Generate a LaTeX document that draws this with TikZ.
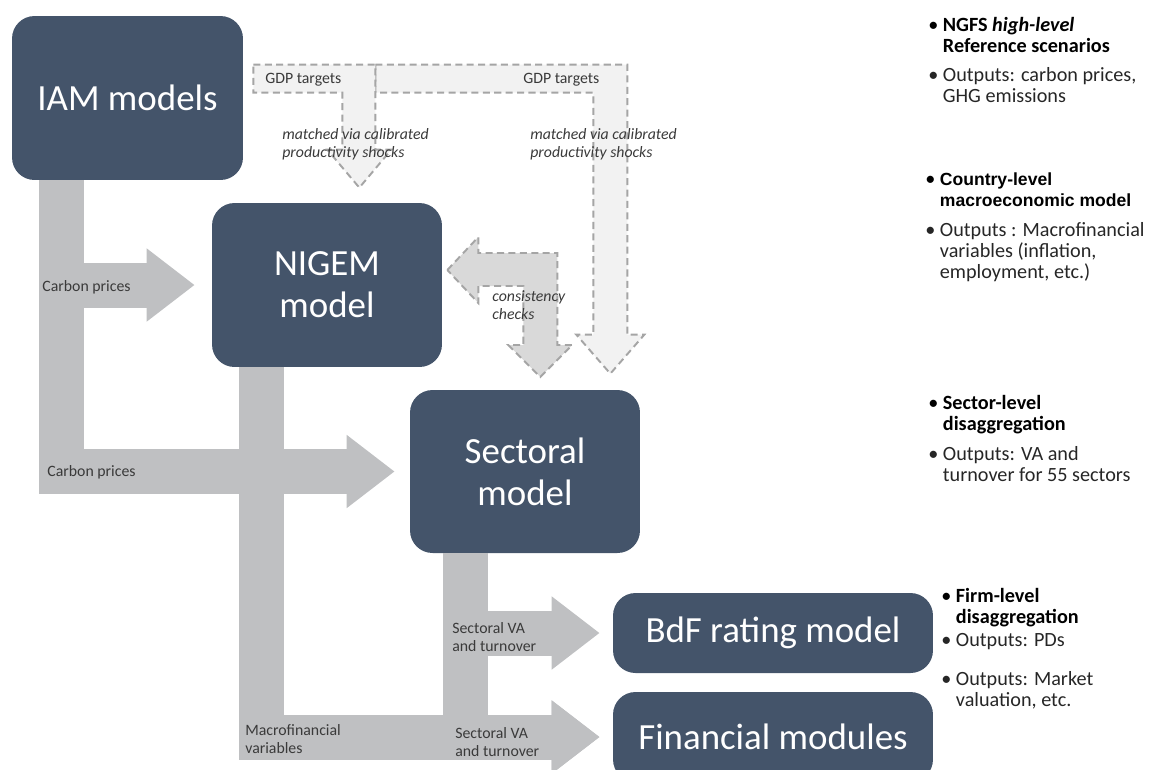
\documentclass[tikz,border=0pt]{standalone}
\usepackage{fontspec}
\setmainfont{Carlito}
\newfontfamily\arialfont{Liberation Sans}
\usetikzlibrary{arrows.meta,calc}

\definecolor{boxblue}{HTML}{44546A}
\definecolor{bandgray}{HTML}{BFC0C2}
\definecolor{dashgray}{HTML}{A5A5A5}
\definecolor{lightfill}{HTML}{F2F2F2}
\definecolor{midfill}{HTML}{D9D9D9}
\definecolor{labelgray}{HTML}{3A3A3A}
\definecolor{notegray}{HTML}{262626}

\newcommand{\bul}{\makebox[0.72em][l]{\textbullet}}
\newcommand{\bulpad}{\hspace*{0.72em}}

\tikzset{
  model/.style={fill=boxblue, text=white, rounded corners=0.45cm, align=center,
    inner sep=0pt, font=\fontsize{21}{24}\selectfont},
  band/.style={draw=bandgray, line width=0.9cm, -{Triangle[length=0.96cm,width=1.4cm]}},
  flowlabel/.style={anchor=west, align=left, inner sep=0pt, text=labelgray,
    font=\fontsize{9}{10.5}\selectfont},
  hint/.style={flowlabel, font=\fontsize{9}{10.5}\selectfont\itshape},
  dashedarrow/.style={draw=dashgray, line width=1.1pt, dash pattern=on 4pt off 2.5pt},
  note/.style={anchor=north west, align=left, inner sep=0pt, text=notegray,
    font=\fontsize{11.5}{12}\selectfont},
}

\begin{document}
\begin{tikzpicture}[x=0.02cm, y=-0.02cm]
\useasboundingbox (0,0) rectangle (1149,769);

% models
\node[model, minimum width=4.62cm, minimum height=3.28cm] (iam) at (127.5,98) {IAM models};
\node[model, minimum width=4.6cm, minimum height=3.28cm] (nigem) at (327,285) {NIGEM\\model};
\node[model, minimum width=4.6cm, minimum height=3.26cm] (sect) at (525,471.5) {Sectoral\\model};
\node[model, minimum width=6.4cm, minimum height=1.6cm] (bdf) at (773,633) {BdF rating model};
\node[model, minimum width=6.4cm, minimum height=1.8cm] (fin) at (773,737) {Financial modules};

% grey flows
\draw[band] ([xshift=-1.32cm]iam.south) |- ([xshift=-0.34cm]nigem.west);
\draw[band] ([xshift=-1.32cm]iam.south) |- ([xshift=-0.3cm]sect.west);
\draw[band] ([xshift=-1.32cm]nigem.south) |- ([xshift=-0.26cm]fin.west);
\draw[band] ([xshift=-1.19cm]sect.south) |- ([xshift=-0.26cm]bdf.west);
\draw[band] ([xshift=-1.19cm]sect.south) |- ([xshift=-0.26cm]fin.west);

% dashed feedback arrows
\coordinate (gdp1) at ($(iam.north east)+(10,49)$);
\coordinate (gdp2) at ($(gdp1)+(122,0)$);
\coordinate (chk) at ($(nigem.east)+(5,-15)$);
\filldraw[dashedarrow, fill=lightfill] (gdp2) -- ++(252,0) -- ++(0,270) -- ++(17,0)
  -- ++(-34,39) -- ++(-34,-39) -- ++(17,0) -- ++(0,-242) -- ++(-218,0) -- cycle;
\filldraw[dashedarrow, fill=lightfill] (gdp1) -- ++(122,0) -- ++(0,85) -- ++(16,0)
  -- ++(-32,38) -- ++(-32,-38) -- ++(15,0) -- ++(0,-57) -- ++(-89,0) -- cycle;
\filldraw[dashedarrow, fill=midfill] (chk) -- ++(31,-33) -- ++(0,16) -- ++(79,0)
  -- ++(0,92) -- ++(15,0) -- ++(-32,32) -- ++(-32,-32) -- ++(15,0) -- ++(0,-59)
  -- ++(-45,0) -- ++(0,17) -- cycle;

% flow labels
\node[flowlabel] (gdplab1) at (265,80) {GDP targets};
\node[flowlabel] (gdplab2) at (523,80) {GDP targets};
\node[hint] (match1) at (282,144) {matched via calibrated\\productivity shocks};
\node[hint] (match2) at (530,144) {matched via calibrated\\productivity shocks};
\node[hint] (checks) at (492,305) {consistency\\checks};
\node[flowlabel] (carbon1) at (42,287) {Carbon prices};
\node[flowlabel] (carbon2) at (47,472) {Carbon prices};
\node[flowlabel] (secva1) at (452,637) {Sectoral VA\\and turnover};
\node[flowlabel] (secva2) at (455,742) {Sectoral VA\\and turnover};
\node[flowlabel] (macrofin) at (245,739) {Macrofinancial\\variables};

% notes on the right
\node[note, text=black] (ngfs) at (928,17) {\bul\textbf{NGFS \textit{high-level}}\\\bulpad\textbf{Reference scenarios}};
\node[note] (ngfsout) at (928,67) {\bul Outputs: carbon prices,\\\bulpad GHG emissions};
\node[note, text=black] (country) at (925,172) {\bul{\arialfont\bfseries\fontsize{10}{12}\selectfont Country-level}\\\bulpad{\arialfont\bfseries\fontsize{10}{12}\selectfont macroeconomic model}};
\node[note] (countryout) at (925,222) {\bul Outputs : Macrofinancial\\\bulpad variables (inflation,\\\bulpad employment, etc.)};
\node[note, text=black] (sector) at (928,395) {\bul\textbf{Sector-level}\\\bulpad\textbf{disaggregation}};
\node[note] (sectorout) at (928,446) {\bul Outputs: VA and\\\bulpad turnover for 55 sectors};
\node[note, text=black] (firm) at (941,588) {\bul\textbf{Firm-level}\\\bulpad\textbf{disaggregation}};
\node[note] (firmout) at (941,633) {\bul Outputs: PDs};
\node[note] (finout) at (941,671) {\bul Outputs: Market\\\bulpad valuation, etc.};

\end{tikzpicture}
\end{document}
